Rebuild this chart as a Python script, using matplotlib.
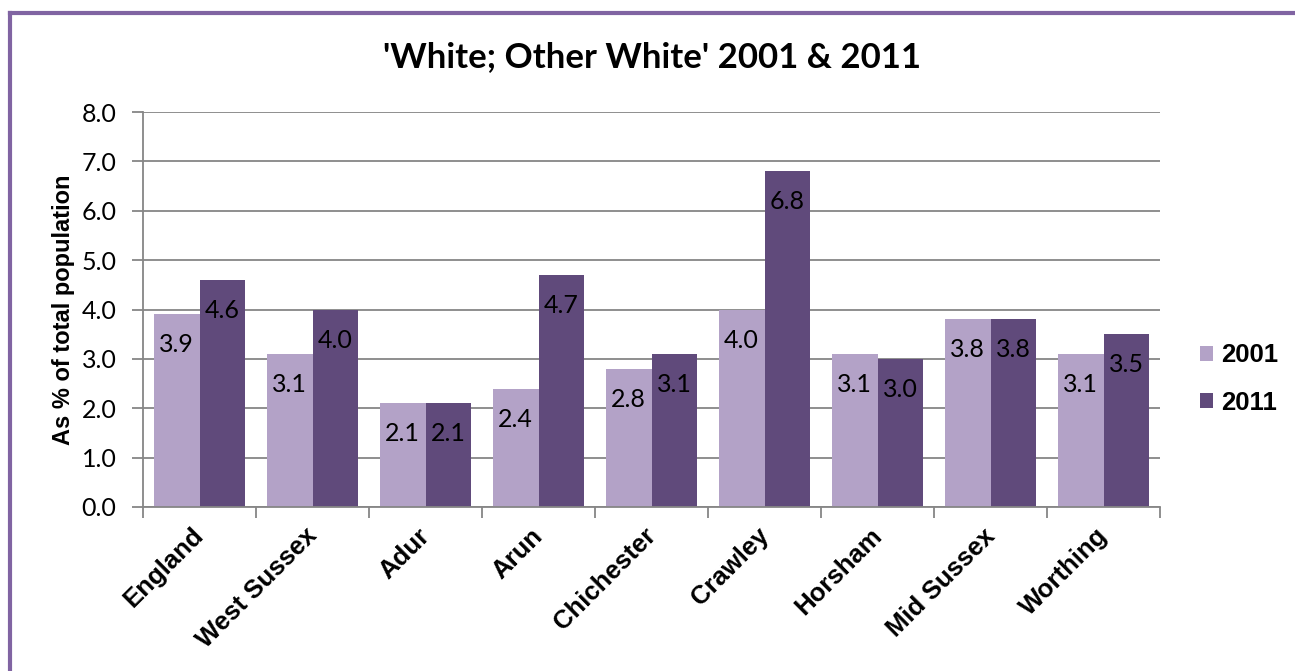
import numpy as np
import matplotlib.pyplot as plt
from matplotlib.lines import Line2D
from matplotlib.transforms import ScaledTranslation

# data
areas = ['England', 'West Sussex', 'Adur', 'Arun', 'Chichester',
         'Crawley', 'Horsham', 'Mid Sussex', 'Worthing']
pct_2001 = [3.9, 3.1, 2.1, 2.4, 2.8, 4.0, 3.1, 3.8, 3.1]
pct_2011 = [4.6, 4.0, 2.1, 4.7, 3.1, 6.8, 3.0, 3.8, 3.5]
series_names = ['2001', '2011']

light = '#B3A2C7'
dark = '#604A7B'
grid_col = '#868686'

fig = plt.figure(figsize=(12.95, 6.71), dpi=100)
ax = fig.add_axes([143 / 1295, 1 - 507 / 671, (1160 - 143) / 1295, (507 - 112) / 671])

x = np.arange(len(areas))
w = 0.407
b1 = ax.bar(x - w / 2, pct_2001, w, color=light, zorder=2, label=series_names[0])
b2 = ax.bar(x + w / 2, pct_2011, w, color=dark, zorder=2, label=series_names[1])

for bars, vals in ((b1, pct_2001), (b2, pct_2011)):
    for r, v in zip(bars, vals):
        ax.annotate(f'{v:.1f}', (r.get_x() + r.get_width() / 2, v),
                    xytext=(0, -22), textcoords='offset points',
                    ha='center', va='center', fontsize=18, family='Lato',
                    color='black', zorder=3)

ax.set_xlim(-0.5, len(areas) - 0.5)
ax.set_ylim(0, 8)
ax.set_yticks(np.arange(0, 8.1, 1.0))
ax.set_yticklabels([f'{v:.1f}' for v in np.arange(0, 8.1, 1.0)], family='Lato', fontsize=18)
ax.yaxis.grid(True, color=grid_col, linewidth=1.3, zorder=0)
ax.set_axisbelow(True)

# category ticks sit between the groups
ax.set_xticks(np.arange(-0.5, len(areas), 1.0))
ax.set_xticklabels([])
ax.set_xticks(x, minor=True)
ax.set_xticklabels(areas, minor=True, rotation=45, ha='right', rotation_mode='anchor',
                   family='Liberation Sans', fontweight='bold', fontsize=18.5)
ax.tick_params(axis='x', which='minor', length=0, pad=12)
ax.tick_params(axis='x', which='major', length=8, color=grid_col, width=1.3)
ax.tick_params(axis='y', length=8, color=grid_col, width=1.3, pad=11)
shift = ScaledTranslation(-8 / 100, 0, fig.dpi_scale_trans)
for lbl in ax.get_xticklabels(minor=True):
    lbl.set_transform(lbl.get_transform() + shift)

for s in ('top', 'right'):
    ax.spines[s].set_visible(False)
for s in ('left', 'bottom'):
    ax.spines[s].set_color(grid_col)
    ax.spines[s].set_linewidth(1.3)

ax.set_ylabel('As % of total population', family='Liberation Sans',
              fontweight='bold', fontsize=17, labelpad=5)

fig.text(652 / 1295, 1 - 57 / 671, "'White; Other White' 2001 & 2011",
         ha='center', va='center', family='Lato', fontweight='bold', fontsize=25)

ax.legend(handles=[b1, b2], loc='center left', bbox_to_anchor=(1.017, 0.324),
          frameon=False, prop={'family': 'Liberation Sans', 'weight': 'bold', 'size': 18.5},
          handlelength=0.5, handleheight=0.5, handletextpad=0.3, labelspacing=0.9)

# purple frame on top and left
fig.add_artist(Line2D([10 / 1295, 10 / 1295], [0, 1 - 13 / 671], transform=fig.transFigure,
                      color='#8064A2', linewidth=3))
fig.add_artist(Line2D([10 / 1295, 1], [1 - 13 / 671, 1 - 13 / 671], transform=fig.transFigure,
                      color='#8064A2', linewidth=3))

fig.savefig('out.png', dpi=100)
